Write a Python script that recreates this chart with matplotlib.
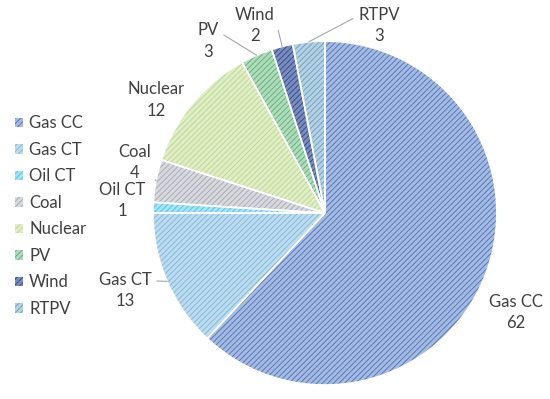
import numpy as np
import matplotlib.pyplot as plt

plt.rcParams['font.family'] = ['Lato', 'DejaVu Sans']
plt.rcParams['hatch.linewidth'] = 0.7

# data
labels = ["Gas CC", "Gas CT", "Oil CT", "Coal", "Nuclear", "PV", "Wind", "RTPV"]
values = [62, 13, 1, 4, 12, 3, 2, 3]

# look
face_colors = ["#a4bbe4", "#bcdcf0", "#a6e4f6", "#d7d9de", "#e0eec6", "#b0dcbc", "#7a8dc2", "#b4d2e3"]
hatch_colors = ["#5a78b6", "#86b8da", "#52c6ea", "#a8acb6", "#bcd894", "#62b27e", "#3a4c84", "#74a2be"]

# label positions (axes data units, pie radius = 1) and leader anchor on the text box
label_pos = [(1.11, -0.576), (-1.163, -0.448), (-1.18, 0.072), (-1.105, 0.292),
             (-0.98, 0.657), (-0.68, 1.0), (-0.407, 1.09), (0.314, 1.093)]
leader_rel = [None, (1.0, 0.75), None, (1.0, 0.25), None, (1.0, 0.75), (1.0, 0.75), (0.0, 0.75)]

fig = plt.figure(figsize=(5.5, 3.99), dpi=100)
ax = fig.add_axes([0.278, 0.035, 0.6255, 0.862])

wedges, _ = ax.pie(values, startangle=90, counterclock=False, radius=1,
                   wedgeprops=dict(linewidth=0))
for w, fc, hc in zip(wedges, face_colors, hatch_colors):
    w.set_facecolor(fc)
    w.set_edgecolor(hc)
    w.set_hatch("//////")

# white separators
ax.pie(values, startangle=90, counterclock=False, radius=1,
       wedgeprops=dict(facecolor="none", edgecolor="white", linewidth=1.2))

txt = "#404040"
for w, lab, v, (tx, ty), rel in zip(wedges, labels, values, label_pos, leader_rel):
    ang = np.deg2rad((w.theta1 + w.theta2) / 2)
    ex, ey = np.cos(ang), np.sin(ang)
    if rel is not None:
        ax.annotate(f"{lab}\n{v}", xy=(ex, ey), xytext=(tx, ty),
                    ha="center", va="center", fontsize=12, color=txt,
                    linespacing=1.4,
                    arrowprops=dict(arrowstyle="-", color="#a6a6a6", lw=0.8,
                                    relpos=rel, shrinkA=2, shrinkB=0))
    else:
        ax.text(tx, ty, f"{lab}\n{v}", ha="center", va="center",
                fontsize=12, color=txt, linespacing=1.4)

ax.set_xlim(-1, 1)
ax.set_ylim(-1, 1)
ax.set_aspect("equal")
ax.axis("off")

leg = fig.legend(wedges, labels, loc="upper left", bbox_to_anchor=(0.015, 0.728),
                 frameon=False, fontsize=12, handlelength=0.5, handleheight=0.5,
                 handletextpad=0.35, labelspacing=0.63, borderaxespad=0)
for t in leg.get_texts():
    t.set_color(txt)

fig.savefig("out.png", dpi=100)
